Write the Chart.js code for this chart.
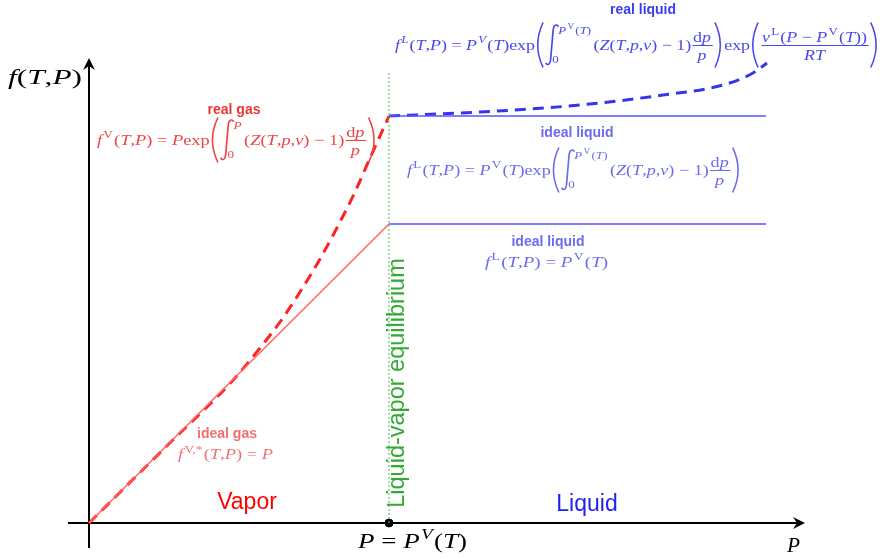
<!DOCTYPE html>
<html>
<head>
<meta charset="utf-8">
<script src="https://cdn.jsdelivr.net/npm/chart.js@4"></script>
<style>
  body { margin: 0; background: #fff; }
  #wrap { width: 884px; height: 559px; }
</style>
</head>
<body>
<div id="wrap"><canvas id="chart"></canvas></div>
<script>
// pressure (x) and fugacity (y) values, arbitrary units
const satPressure = 3.0;
const equilibriumTop = 4.51;

const idealGasP = [0, 3.0];
const idealGasF = [0, 2.99];

const realGasP = [0, 0.91, 1.21, 1.46, 1.71, 1.91, 2.11, 2.31, 2.51, 2.66, 2.81, 2.91, 3.0];
const realGasF = [0, 0.90, 1.19, 1.45, 1.75, 2.01, 2.31, 2.64, 3.01, 3.31, 3.65, 3.87, 4.07];

const liquidP = [3.0, 6.77];
const idealLiquidLow = [2.99, 2.99];
const idealLiquidHigh = [4.07, 4.07];

const realLiquidP = [3.0, 3.91, 4.91, 5.74, 6.34, 6.64, 6.78];
const realLiquidF = [4.07, 4.11, 4.18, 4.28, 4.38, 4.50, 4.60];

const SERIF = '"Liberation Serif", "DejaVu Serif", serif';
const SANS = '"Liberation Sans", Arial, sans-serif';

const pts = (xs, ys) => xs.map((x, i) => ({ x: x, y: ys[i] }));

// --- tiny math typesetter ---
const T = (s) => ({ k: 't', s: s, it: true });
const R = (s) => ({ k: 't', s: s, it: false });
const SUP = (s, it) => ({ k: 'sup', s: s, it: !!it });
const INT = (up, lo) => ({ k: 'int', up: up, lo: lo });
const PL = { k: 'pl' }, PR = { k: 'pr' };
const FR = (n, d) => ({ k: 'fr', n: n, d: d });
// letters italic, everything else upright
function A(s) {
  const out = [];
  let buf = '', it = null;
  for (const ch of s) {
    const isL = /[A-Za-z]/.test(ch);
    if (it !== null && isL !== it) { out.push({ k: 't', s: buf, it: it }); buf = ''; }
    it = isL;
    buf += ch;
  }
  if (buf) out.push({ k: 't', s: buf, it: it });
  return out;
}

const mkFont = (sz, it) => (it ? 'italic ' : '') + sz.toFixed(1) + 'px ' + SERIF;

function runMath(ctx, items, x, y, sz, draw) {
  let cx = x;
  for (const it of items) {
    if (it.k === 't') {
      ctx.font = mkFont(sz, it.it);
      if (draw) ctx.fillText(it.s, cx, y);
      cx += ctx.measureText(it.s).width;
    } else if (it.k === 'sup') {
      ctx.font = mkFont(sz * 0.72, it.it);
      if (draw) ctx.fillText(it.s, cx + 1, y - sz * 0.45);
      cx += ctx.measureText(it.s).width + 2;
    } else if (it.k === 'pl' || it.k === 'pr') {
      const h = sz * 3.0, w = sz * 0.5, top = y - sz * 0.33 - h / 2;
      if (draw) {
        ctx.beginPath();
        if (it.k === 'pl') {
          ctx.moveTo(cx + w * 0.9, top);
          ctx.quadraticCurveTo(cx - w * 0.3, top + h / 2, cx + w * 0.9, top + h);
        } else {
          ctx.moveTo(cx + w * 0.1, top);
          ctx.quadraticCurveTo(cx + w * 1.3, top + h / 2, cx + w * 0.1, top + h);
        }
        ctx.lineWidth = 1.3;
        ctx.stroke();
      }
      cx += w + 1;
    } else if (it.k === 'int') {
      const top = y - sz * 1.75, bot = y + sz * 1.05;
      if (draw) {
        ctx.beginPath();
        ctx.moveTo(cx + 11, top + 3);
        ctx.bezierCurveTo(cx + 10, top, cx + 7, top + 0.5, cx + 6.6, top + 7);
        ctx.lineTo(cx + 4.6, bot - 7);
        ctx.bezierCurveTo(cx + 4.2, bot - 0.5, cx + 1.5, bot, cx + 0.5, bot - 3);
        ctx.lineWidth = 1.4;
        ctx.stroke();
      }
      const upW = runMath(ctx, it.up, cx + 11, y - sz * 1.05, sz * 0.72, draw);
      ctx.font = mkFont(sz * 0.72, false);
      if (draw) ctx.fillText(it.lo, cx + 6, y + sz * 0.85);
      cx += 11 + upW + 2;
    } else if (it.k === 'fr') {
      const nW = runMath(ctx, it.n, 0, 0, sz, false);
      const dW = runMath(ctx, it.d, 0, 0, sz, false);
      const w = Math.max(nW, dW) + 3;
      const axis = y - sz * 0.3;
      if (draw) {
        runMath(ctx, it.n, cx + (w - nW) / 2, axis - 4, sz, true);
        runMath(ctx, it.d, cx + (w - dW) / 2, axis + sz * 0.95, sz, true);
        ctx.fillRect(cx + 1, axis - 0.5, w - 1, 1);
      }
      cx += w + 1;
    }
  }
  return cx - x;
}

const integrand = [...A('(Z(T,p,v) \u2212 1)'), FR([R('d'), T('p')], [T('p')])];
const pvLimit = [T('P'), SUP('V'), ...A('(T)')];

const realLiquidMath = [T('f'), SUP('L', true), ...A('(T,P) = P'), SUP('V', true), ...A('(T)'), R('exp'), PL,
  INT(pvLimit, '0'), ...integrand, PR, R('exp'), PL,
  FR([T('v'), SUP('L'), ...A('(P \u2212 P'), SUP('V'), ...A('(T))')], [T('RT')]), PR];
const realGasMath = [T('f'), SUP('V'), ...A('(T,P) = P'), R('exp'), PL, INT([T('P')], '0'), ...integrand, PR];
const idealLiquidMath1 = [T('f'), SUP('L'), ...A('(T,P) = P'), SUP('V'), ...A('(T)'), R('exp'), PL,
  INT(pvLimit, '0'), ...integrand, PR];
const idealLiquidMath2 = [T('f'), SUP('L'), ...A('(T,P) = P'), SUP('V'), ...A('(T)')];
const idealGasMath = [T('f'), SUP('V,*'), ...A('(T,P) = P')];
const satMath = [...A('P = P'), SUP('V', true), ...A('(T)')];

// data-unit anchors for annotations
const mathLabels = [
  { items: realLiquidMath, x0: 3.06, x1: 7.91, y: 4.73, sz: 15, color: '#4848ee' },
  { items: realGasMath, x0: 0.08, x1: 2.89, y: 3.78, sz: 15, color: '#ee4444' },
  { items: idealLiquidMath1, x0: 3.18, x1: 6.53, y: 3.48, sz: 15, color: '#6b6bf0' },
  { items: idealLiquidMath2, x0: 3.96, x1: 5.19, y: 2.56, sz: 15, color: '#6b6bf0' },
  { items: idealGasMath, x0: 0.89, x1: 1.84, y: 0.64, sz: 14, color: '#f07070' },
  { items: satMath, x0: 2.69, x1: 3.78, y: -0.25, sz: 21, color: '#000' },
  { items: [T('P')], x0: 6.98, x1: 7.11, y: -0.29, sz: 21, color: '#000' },
  { items: [T('f'), ...A('(T,P)')], x0: -0.81, x1: -0.07, y: 4.39, sz: 21, color: '#000' }
];

const textLabels = [
  { s: 'real liquid', x: 5.54, y: 5.13, font: 'bold 14px ' + SANS, color: '#3b3bef' },
  { s: 'real gas', x: 1.45, y: 4.13, font: 'bold 14px ' + SANS, color: '#ee3333' },
  { s: 'ideal liquid', x: 4.88, y: 3.90, font: 'bold 14px ' + SANS, color: '#6b6bf0' },
  { s: 'ideal liquid', x: 4.59, y: 2.81, font: 'bold 14px ' + SANS, color: '#6b6bf0' },
  { s: 'ideal gas', x: 1.38, y: 0.89, font: 'bold 14px ' + SANS, color: '#f07070' },
  { s: 'Vapor', x: 1.58, y: 0.20, font: '23px ' + SANS, color: '#ff0000' },
  { s: 'Liquid', x: 4.98, y: 0.18, font: '23px ' + SANS, color: '#2222ee' }
];

function arrowHead(ctx, x, y, dir) {
  ctx.save();
  ctx.translate(x, y);
  if (dir === 'up') ctx.rotate(-Math.PI / 2);
  ctx.beginPath();
  ctx.moveTo(0, 0);
  ctx.lineTo(-12, -6);
  ctx.lineTo(-8, 0);
  ctx.lineTo(-12, 6);
  ctx.closePath();
  ctx.fill();
  ctx.restore();
}

const sketchPlugin = {
  id: 'sketch',
  beforeDatasetsDraw(chart) {
    const { ctx, scales: { x, y } } = chart;
    ctx.save();
    ctx.strokeStyle = '#000';
    ctx.fillStyle = '#000';
    ctx.lineWidth = 2;
    ctx.beginPath();
    ctx.moveTo(x.getPixelForValue(-0.21), y.getPixelForValue(0));
    ctx.lineTo(x.getPixelForValue(7.12), y.getPixelForValue(0));
    ctx.moveTo(x.getPixelForValue(0), y.getPixelForValue(-0.25));
    ctx.lineTo(x.getPixelForValue(0), y.getPixelForValue(4.61));
    ctx.stroke();
    arrowHead(ctx, x.getPixelForValue(7.16), y.getPixelForValue(0), 'right');
    arrowHead(ctx, x.getPixelForValue(0), y.getPixelForValue(4.65), 'up');
    ctx.restore();
  },
  afterDatasetsDraw(chart) {
    const { ctx, scales: { x, y } } = chart;
    ctx.save();
    ctx.textBaseline = 'alphabetic';
    for (const m of mathLabels) {
      const natural = runMath(ctx, m.items, 0, 0, m.sz, false);
      const left = x.getPixelForValue(m.x0);
      const target = x.getPixelForValue(m.x1) - left;
      ctx.save();
      ctx.fillStyle = m.color;
      ctx.strokeStyle = m.color;
      ctx.translate(left, y.getPixelForValue(m.y));
      ctx.scale(target / natural, 1);
      runMath(ctx, m.items, 0, 0, m.sz, true);
      ctx.restore();
    }
    ctx.textAlign = 'center';
    ctx.textBaseline = 'middle';
    for (const t of textLabels) {
      ctx.font = t.font;
      ctx.fillStyle = t.color;
      ctx.fillText(t.s, x.getPixelForValue(t.x), y.getPixelForValue(t.y));
    }
    // rotated equilibrium label
    const eq = 'Liquid-vapor equilibrium';
    const span = y.getPixelForValue(0.15) - y.getPixelForValue(2.65);
    ctx.font = '20px ' + SANS;
    const fs = 20 * span / ctx.measureText(eq).width;
    ctx.font = fs.toFixed(1) + 'px ' + SANS;
    ctx.fillStyle = '#33aa33';
    ctx.translate(x.getPixelForValue(3.09), y.getPixelForValue(1.40));
    ctx.rotate(-Math.PI / 2);
    ctx.fillText(eq, 0, 0);
    ctx.restore();
  }
};

new Chart(document.getElementById('chart'), {
  type: 'scatter',
  data: {
    datasets: [
      {
        label: 'liquid-vapor equilibrium',
        data: pts([satPressure, satPressure], [0, equilibriumTop]),
        showLine: true, borderColor: '#44bb44', borderWidth: 1, borderDash: [2, 2], pointRadius: 0
      },
      {
        label: 'ideal gas',
        data: pts(idealGasP, idealGasF),
        showLine: true, borderColor: '#ff6666', borderWidth: 1.5, pointRadius: 0
      },
      {
        label: 'ideal liquid',
        data: pts(liquidP, idealLiquidLow),
        showLine: true, borderColor: '#5555ff', borderWidth: 1.5, pointRadius: 0
      },
      {
        label: 'ideal liquid (Poynting-free)',
        data: pts(liquidP, idealLiquidHigh),
        showLine: true, borderColor: '#5555ff', borderWidth: 1.5, pointRadius: 0
      },
      {
        label: 'real gas',
        data: pts(realGasP, realGasF),
        showLine: true, borderColor: '#ff2222', borderWidth: 3, borderDash: [11, 7],
        cubicInterpolationMode: 'monotone', pointRadius: 0
      },
      {
        label: 'real liquid',
        data: pts(realLiquidP, realLiquidF),
        showLine: true, borderColor: '#3535ee', borderWidth: 3, borderDash: [11, 7],
        cubicInterpolationMode: 'monotone', pointRadius: 0
      },
      {
        label: 'saturation pressure',
        data: [{ x: satPressure, y: 0 }],
        pointRadius: 4, pointBackgroundColor: '#000', pointBorderColor: '#000'
      }
    ]
  },
  options: {
    responsive: true,
    maintainAspectRatio: false,
    animation: false,
    layout: { padding: 0, autoPadding: false },
    plugins: { legend: { display: false }, tooltip: { enabled: false } },
    scales: {
      x: { type: 'linear', min: -0.89, max: 7.95, display: false },
      y: { type: 'linear', min: -0.36, max: 5.23, display: false }
    }
  },
  plugins: [sketchPlugin]
});
</script>
</body>
</html>
